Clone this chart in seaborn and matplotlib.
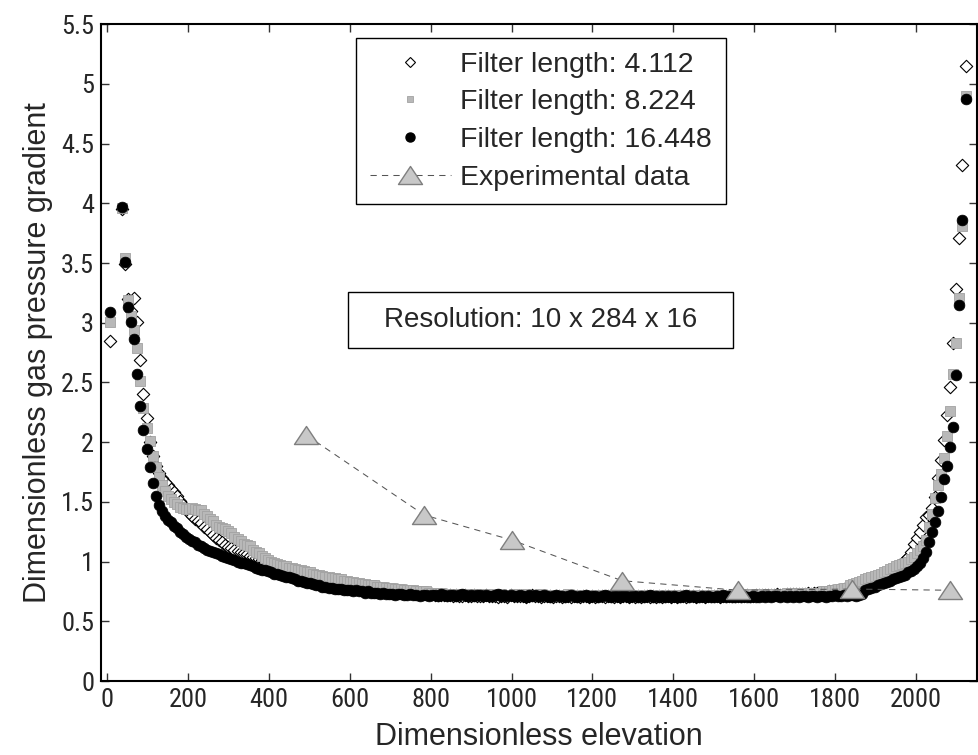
import numpy as np
import pandas as pd
import matplotlib
matplotlib.use("Agg")
import matplotlib.pyplot as plt
from matplotlib.path import Path
from matplotlib.lines import Line2D
from matplotlib.patches import Rectangle
from matplotlib.ticker import FormatStrFormatter
from matplotlib import font_manager
import seaborn as sns

# ---------------- data ----------------
# cell-centre elevations of the 284-cell column (first cell, then uniform grid)
ELEVATION = [7.5] + [37.5 + 7.5 * k for k in range(279)]

FILTER_4112 = [
    2.85,
    3.95, 3.49, 3.20, 3.10, 3.21, 3.01, 2.69, 2.40, 2.20, 2.00,
    1.88, 1.80, 1.74, 1.70, 1.67, 1.64, 1.61, 1.58, 1.55, 1.51,
    1.47, 1.44, 1.41, 1.38, 1.36, 1.34, 1.32, 1.29, 1.27, 1.25,
    1.22, 1.20, 1.18, 1.16, 1.14, 1.12, 1.11, 1.10, 1.09, 1.08,
    1.07, 1.06, 1.05, 1.04, 1.03, 1.02, 1.01, 1.00, 0.99, 0.98,
    0.97, 0.96, 0.95, 0.95, 0.94, 0.94, 0.93, 0.92, 0.92, 0.91, 0.90, 0.90, 0.89, 0.88, 0.88, 0.87,
    0.86, 0.86, 0.85, 0.85, 0.84, 0.84, 0.83, 0.83, 0.82, 0.82, 0.81, 0.81, 0.80, 0.80, 0.79,
    0.79, 0.79, 0.78, 0.78, 0.78, 0.77, 0.77, 0.77, 0.76, 0.76, 0.76, 0.75, 0.75, 0.75, 0.74,
    0.74, 0.74, 0.74, 0.73, 0.73, 0.73, 0.73, 0.72, 0.72, 0.72, 0.72, 0.72, 0.72, 0.71, 0.72,
    0.71, 0.71, 0.72, 0.71, 0.71, 0.72, 0.71, 0.71, 0.71, 0.72,
    0.71, 0.71, 0.71, 0.70, 0.71, 0.71, 0.70, 0.72, 0.71, 0.71,
    0.71, 0.71, 0.70, 0.71, 0.72, 0.71, 0.71, 0.70, 0.71, 0.71,
    0.71, 0.70, 0.71, 0.71, 0.70, 0.71, 0.71, 0.70, 0.71, 0.71,
    0.70, 0.71, 0.71, 0.70, 0.71, 0.70, 0.71, 0.71, 0.70, 0.71,
    0.71, 0.70, 0.71, 0.70, 0.71, 0.71, 0.70, 0.71, 0.70, 0.71,
    0.70, 0.71, 0.71, 0.70, 0.71, 0.70, 0.71, 0.70, 0.71, 0.71,
    0.70, 0.71, 0.70, 0.71, 0.71, 0.70, 0.71, 0.71, 0.70, 0.71,
    0.71, 0.70, 0.71, 0.71, 0.71, 0.71, 0.70, 0.71, 0.71, 0.71,
    0.71, 0.71, 0.71, 0.71, 0.71, 0.72, 0.71, 0.71, 0.72, 0.72,
    0.72, 0.72, 0.72, 0.72, 0.72, 0.73, 0.72, 0.72, 0.73, 0.73,
    0.73, 0.73, 0.73, 0.73, 0.73, 0.74, 0.73, 0.74, 0.74,
    0.74, 0.74, 0.74, 0.75, 0.75, 0.75, 0.76, 0.76, 0.77, 0.77,
    0.78, 0.79, 0.80, 0.81, 0.82, 0.83, 0.84, 0.85, 0.86, 0.87,
    0.88, 0.89, 0.90, 0.92, 0.93, 0.95, 0.97, 0.99, 1.01, 1.04,
    1.08, 1.15, 1.20, 1.25, 1.31, 1.37, 1.39, 1.45, 1.54, 1.70,
    1.85, 2.02, 2.23, 2.46, 2.83, 3.28, 3.71, 4.32, 5.15,
]

FILTER_8224 = [
    3.01,
    3.96, 3.54, 3.19, 3.06, 2.94, 2.79, 2.51, 2.29, 2.12, 2.01, 1.88, 1.79, 1.71, 1.64, 1.59, 1.55,
    1.52, 1.50, 1.48, 1.46, 1.45, 1.44, 1.44, 1.45, 1.44, 1.43, 1.43, 1.40, 1.38, 1.36, 1.34,
    1.31, 1.29, 1.28, 1.27, 1.26, 1.24, 1.21, 1.19, 1.17, 1.15, 1.14, 1.13, 1.10, 1.08, 1.07,
    1.05, 1.03, 1.01, 1.00, 0.99,
    0.98, 0.97, 0.96, 0.96, 0.95, 0.95, 0.94, 0.93, 0.93, 0.92, 0.91, 0.91, 0.90, 0.89, 0.89,
    0.88, 0.87, 0.87, 0.86, 0.86, 0.85, 0.85, 0.84, 0.84, 0.83, 0.83, 0.82, 0.82, 0.81, 0.81,
    0.80, 0.80, 0.80, 0.79, 0.79, 0.79, 0.78, 0.78, 0.78, 0.77, 0.77, 0.77, 0.76, 0.76, 0.76,
    0.76, 0.75, 0.75, 0.75, 0.75, 0.74, 0.74, 0.74, 0.74, 0.74, 0.73, 0.73, 0.73, 0.73, 0.73,
    0.73, 0.72, 0.73, 0.73, 0.72, 0.73, 0.72, 0.72, 0.73, 0.72,
    0.72, 0.73, 0.72, 0.72, 0.73, 0.72, 0.72, 0.72, 0.73, 0.72,
    0.72, 0.72, 0.73, 0.72, 0.72, 0.72, 0.72, 0.73, 0.72, 0.72,
    0.72, 0.72, 0.71, 0.72, 0.72, 0.72, 0.73, 0.72, 0.72, 0.71,
    0.72, 0.72, 0.72, 0.71, 0.72, 0.72, 0.72, 0.71, 0.72, 0.72,
    0.71, 0.72, 0.72, 0.71, 0.72, 0.72, 0.71, 0.72, 0.72, 0.71,
    0.72, 0.71, 0.72, 0.72, 0.71, 0.72, 0.72, 0.71, 0.72, 0.72,
    0.71, 0.72, 0.72, 0.72, 0.71, 0.72, 0.72, 0.72, 0.71, 0.72,
    0.72, 0.72, 0.72, 0.71, 0.72, 0.72, 0.72, 0.72, 0.72, 0.72,
    0.72, 0.73, 0.72, 0.72, 0.72, 0.73, 0.72, 0.73, 0.72, 0.73,
    0.73, 0.72, 0.73, 0.73, 0.73, 0.72, 0.73, 0.73, 0.74, 0.73,
    0.73, 0.74, 0.73, 0.74, 0.74, 0.73, 0.74, 0.74, 0.74,
    0.74, 0.75, 0.75, 0.75, 0.76, 0.76, 0.77, 0.77, 0.78, 0.78,
    0.80, 0.81, 0.82, 0.83, 0.84, 0.85, 0.86, 0.87, 0.88, 0.89,
    0.90, 0.91, 0.92, 0.94, 0.95, 0.96, 0.97, 0.98, 0.99, 1.00,
    1.02, 1.04, 1.07, 1.10, 1.13, 1.18, 1.29, 1.40, 1.53, 1.64,
    1.73, 1.87, 2.05, 2.26, 2.57, 2.83, 3.21, 3.81, 4.90,
]

FILTER_16448 = [
    3.09,
    3.97, 3.51, 3.13, 3.01, 2.86, 2.57, 2.30, 2.10, 1.94, 1.79, 1.66, 1.55, 1.47, 1.42, 1.38, 1.35,
    1.33, 1.30, 1.28, 1.25, 1.23, 1.21, 1.19, 1.17, 1.16, 1.14, 1.13, 1.11, 1.10, 1.09, 1.08,
    1.07, 1.06, 1.05, 1.04, 1.03, 1.02, 1.01, 1.00, 0.99, 0.99,
    0.98, 0.97, 0.96, 0.95, 0.94, 0.93, 0.93, 0.92, 0.91, 0.90, 0.90, 0.89, 0.88, 0.87, 0.87,
    0.86, 0.85, 0.84, 0.84, 0.83, 0.82, 0.82, 0.81, 0.80, 0.80, 0.79, 0.79, 0.78, 0.78, 0.77,
    0.77, 0.77, 0.76, 0.76, 0.76,
    0.75, 0.76, 0.75, 0.75, 0.74, 0.75, 0.74, 0.74, 0.74, 0.73, 0.74, 0.73, 0.73, 0.73, 0.72,
    0.73, 0.73, 0.72, 0.72, 0.73, 0.72, 0.72, 0.71, 0.72,
    0.72, 0.71, 0.72, 0.72, 0.71, 0.73, 0.72, 0.71, 0.72, 0.72,
    0.71, 0.72, 0.73, 0.72, 0.71, 0.72, 0.71, 0.72, 0.72, 0.71,
    0.72, 0.71, 0.71, 0.72, 0.73, 0.71, 0.72, 0.71, 0.72, 0.71,
    0.71, 0.72, 0.71, 0.70, 0.72, 0.71, 0.72, 0.71, 0.71, 0.72,
    0.71, 0.70, 0.71, 0.72, 0.71, 0.71, 0.70, 0.71, 0.72, 0.71,
    0.70, 0.71, 0.71, 0.72, 0.70, 0.71, 0.71, 0.70, 0.71, 0.72,
    0.71, 0.70, 0.71, 0.71, 0.70, 0.72, 0.71, 0.70, 0.71, 0.71,
    0.70, 0.71, 0.70, 0.71, 0.72, 0.70, 0.71, 0.70, 0.71, 0.70,
    0.71, 0.70, 0.71, 0.70, 0.70, 0.71, 0.72, 0.70, 0.71, 0.70,
    0.70, 0.71, 0.70, 0.71, 0.70, 0.70, 0.71, 0.70, 0.72, 0.70,
    0.71, 0.70, 0.70, 0.71, 0.70, 0.71, 0.70, 0.70, 0.71, 0.70,
    0.70, 0.71, 0.70, 0.71, 0.70, 0.71, 0.71, 0.70, 0.71, 0.70,
    0.71, 0.70, 0.71, 0.70, 0.71, 0.71, 0.70, 0.71, 0.71, 0.70,
    0.71, 0.71, 0.70, 0.71, 0.71, 0.72, 0.71, 0.71, 0.72, 0.71,
    0.72, 0.72, 0.71, 0.72, 0.73,
    0.76, 0.77, 0.78, 0.79, 0.80, 0.81, 0.82, 0.83, 0.84, 0.85,
    0.86, 0.87, 0.88, 0.89, 0.91, 0.92, 0.94, 0.96, 0.99, 1.03,
    1.08, 1.16, 1.25, 1.33, 1.42, 1.54, 1.69, 1.80, 1.96, 2.13,
    2.56, 3.15, 3.86, 4.87,
]

EXP_ELEVATION = [492, 784, 1001, 1273, 1560, 1842, 2084]
EXP_GRADIENT = [2.06, 1.39, 1.18, 0.84, 0.76, 0.77, 0.76]

LABELS = ["Filter length: 4.112", "Filter length: 8.224",
          "Filter length: 16.448", "Experimental data"]
X_TICKS = [0, 200, 400, 600, 800, 1000, 1200, 1400, 1600, 1800, 2000]
Y_TICKS = [0, 0.5, 1, 1.5, 2, 2.5, 3, 3.5, 4, 4.5, 5, 5.5]

df = pd.DataFrame({"elev": ELEVATION, "f4": FILTER_4112,
                   "f8": FILTER_8224, "f16": FILTER_16448})
exp_df = pd.DataFrame({"elev": EXP_ELEVATION, "grad": EXP_GRADIENT})

# ---------------- style ----------------
sns.set_style("ticks")
plt.rcParams["font.family"] = ["Liberation Sans", "DejaVu Sans"]

installed = {f.name for f in font_manager.fontManager.ttflist}
tick_family = "Liberation Sans"
for cand in ["Liberation Sans Narrow", "DejaVu Sans Condensed", "Roboto Condensed"]:
    if cand in installed:
        tick_family = cand
        break

fig = plt.figure(figsize=(9.79, 7.55), dpi=100)
ax = fig.add_axes([0.1032, 0.098, 0.8948, 0.870])

tri = Path([(0, 0.75), (-1, -0.75), (1, -0.75), (0, 0.75)],
           [Path.MOVETO, Path.LINETO, Path.LINETO, Path.CLOSEPOLY])

sns.scatterplot(data=df, x="elev", y="f4", marker="D", s=40, color="white",
                edgecolor="black", linewidth=0.8, ax=ax, zorder=2, legend=False)
sns.scatterplot(data=df, x="elev", y="f8", marker="s", s=46, color="#b8b8b8",
                edgecolor="#a2a2a2", linewidth=0.6, ax=ax, zorder=3, legend=False)
sns.scatterplot(data=df, x="elev", y="f16", marker="o", s=60, color="black",
                edgecolor="black", linewidth=0.5, ax=ax, zorder=4, legend=False)
sns.lineplot(data=exp_df, x="elev", y="grad", sort=False, estimator=None,
             color="#555555", linestyle=(0, (6, 5)), linewidth=0.75,
             marker=tri, markersize=17.3, markerfacecolor="#c8c8c8",
             markeredgecolor="#7f7f7f", markeredgewidth=1.0, ax=ax, zorder=5)

ax.set_xlim(-15, 2151)
ax.set_ylim(0, 5.5)
ax.set_xticks(X_TICKS)
ax.set_yticks(Y_TICKS)
ax.yaxis.set_major_formatter(FormatStrFormatter("%g"))
tick_size = 19 if tick_family != "Liberation Sans" else 17
ax.tick_params(direction="in", length=6, width=1, color="#333333",
               top=True, right=True, labelsize=tick_size, pad=5,
               labelfontfamily=tick_family)
for sp in ax.spines.values():
    sp.set_visible(True)
    sp.set_linewidth(1.5)
    sp.set_color("black")

ax.set_xlabel("Dimensionless elevation", fontsize=22, labelpad=7)
ax.set_ylabel("Dimensionless gas pressure gradient", fontsize=22, labelpad=6)

handles = [
    Line2D([], [], ls="none", marker="D", ms=5, mfc="white", mec="black", mew=0.8),
    Line2D([], [], ls="none", marker="s", ms=5, mfc="#b8b8b8", mec="#a2a2a2", mew=0.6),
    Line2D([], [], ls="none", marker="o", ms=6.5, mfc="black", mec="black"),
    Line2D([], [], ls=(0, (6, 5)), lw=0.75, color="#555555", marker=tri, ms=17.3,
           mfc="#c8c8c8", mec="#7f7f7f", mew=1.0),
]
leg = ax.legend(handles, LABELS, loc="upper left",
                bbox_to_anchor=(356 / 979, 1 - 38 / 755), bbox_transform=fig.transFigure,
                borderaxespad=0, fontsize=20.5, frameon=True, fancybox=False,
                edgecolor="black", framealpha=1, borderpad=0.48, labelspacing=0.41,
                handlelength=2.85, handletextpad=0.33, numpoints=1)
leg.get_frame().set_linewidth(1.0)
leg.set_zorder(10)

ax.add_patch(Rectangle((0.282, 0.507), 0.4395, 0.0852, transform=ax.transAxes,
                       facecolor="white", edgecolor="black", linewidth=1.0, zorder=9))
ax.text(0.5018, 0.5496, "Resolution: 10 x 284 x 16", transform=ax.transAxes,
        ha="center", va="center", fontsize=20, zorder=10)

fig.savefig("out.png", dpi=100)
